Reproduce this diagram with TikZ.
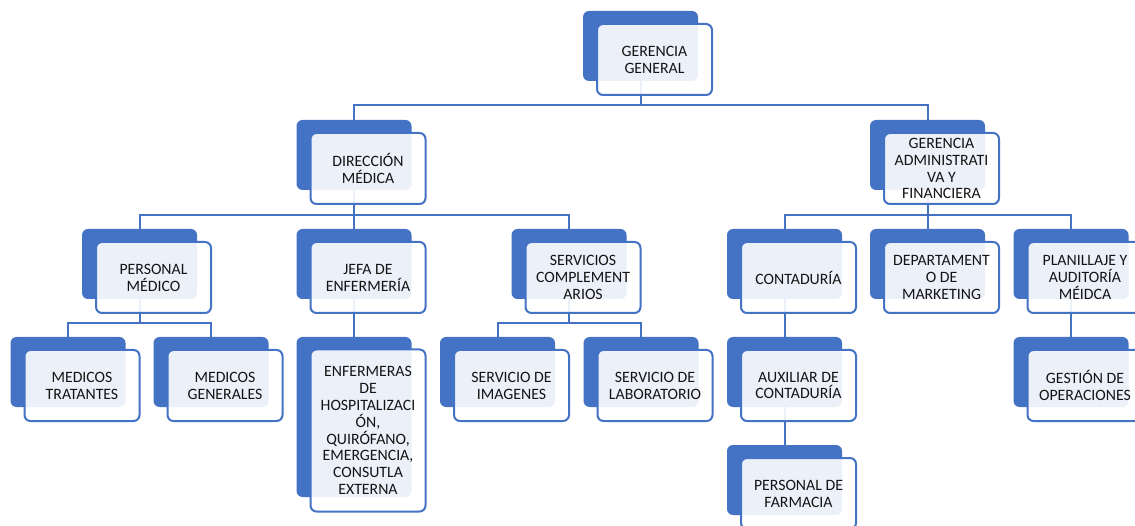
\documentclass[tikz,border=0pt]{standalone}
\usepackage{fontspec}
\setmainfont{Carlito}
\usetikzlibrary{positioning}
\definecolor{orgblue}{HTML}{4472C4}
\definecolor{orgtext}{HTML}{141414}

\begin{document}
\begin{tikzpicture}[x=1pt,y=-1pt]
        \tikzstyle{every node}=[font=\fontsize{15.8}{16.9}\selectfont]
        \tikzstyle{back}=[fill=orgblue,rounded corners=6,inner sep=0,minimum width=115,minimum height=70]
        \tikzstyle{front}=[draw=orgblue,line width=2,rounded corners=6,fill=white,fill opacity=0.9,text opacity=1,text=orgtext,inner sep=0,minimum width=115,minimum height=71,align=center]
        \tikzstyle{link}=[draw=orgblue,line width=2]

        \useasboundingbox (0,0) rectangle (1135,526);

        %back blocks
        \node [back] (gg) at (640.5,46) {};
        \node [back] (dm) at (354,155) {};
        \node [back] (ga) at (927.5,155) {};
        \node [back] (pm) at (139.5,264) {};
        \node [back] (je) at (354,264) {};
        \node [back] (sc) at (569,264) {};
        \node [back] (co) at (784.5,264) {};
        \node [back] (dp) at (927.5,264) {};
        \node [back] (pl) at (1071,264) {};
        \node [back] (mt) at (68,372) {};
        \node [back] (mg) at (211,372) {};
        \node [back,minimum height=160] (en) at (354,417) {};
        \node [back] (si) at (497.5,372) {};
        \node [back] (sl) at (641,372) {};
        \node [back] (ax) at (784.5,372) {};
        \node [back] (go) at (1071,372) {};
        \node [back] (pf) at (784.5,480) {};

        %connectors
        \foreach \c in {dm,ga} {
            \draw [link] (gg.south) -- ++(0,24) -| (\c.north);
        };
        \foreach \c in {pm,je,sc} {
            \draw [link] (dm.south) -- ++(0,25) -| (\c.north);
        };
        \foreach \c in {co,dp,pl} {
            \draw [link] (ga.south) -- ++(0,25) -| (\c.north);
        };
        \foreach \c in {mt,mg} {
            \draw [link] (pm.south) -- ++(0,24) -| (\c.north);
        };
        \foreach \c in {si,sl} {
            \draw [link] (sc.south) -- ++(0,24) -| (\c.north);
        };
        \draw [link] (je.south) -- (en.north);
        \draw [link] (co.south) -- (ax.north);
        \draw [link] (ax.south) -- (pf.north);
        \draw [link] (pl.south) -- (go.north);

        %front blocks with the labels
        \foreach \n/\t in {gg/{GERENCIA\\GENERAL},
                dm/{DIRECCIÓN\\MÉDICA},
                ga/{GERENCIA\\ADMINISTRATI\\VA Y\\FINANCIERA},
                pm/{PERSONAL\\MÉDICO},
                je/{JEFA DE\\ENFERMERÍA},
                sc/{SERVICIOS\\COMPLEMENT\\ARIOS},
                co/{CONTADURÍA},
                dp/{DEPARTAMENT\\O DE\\MARKETING},
                pl/{PLANILLAJE Y\\AUDITORÍA\\MÉIDCA},
                mt/{MEDICOS\\TRATANTES},
                mg/{MEDICOS\\GENERALES},
                si/{SERVICIO DE\\IMAGENES},
                sl/{SERVICIO DE\\LABORATORIO},
                ax/{AUXILIAR DE\\CONTADURÍA},
                go/{GESTIÓN DE\\OPERACIONES},
                pf/{PERSONAL DE\\FARMACIA}} {
            \node [front] (\n-f) at ([shift={(14,13.5)}]\n.center) {\t};
        };
        \node [front,minimum height=162] (en-f) at ([shift={(14,13.5)}]en.center)
            {ENFERMERAS\\DE\\HOSPITALIZACI\\ÓN,\\QUIRÓFANO,\\EMERGENCIA,\\CONSUTLA\\EXTERNA};
\end{tikzpicture}
\end{document}
